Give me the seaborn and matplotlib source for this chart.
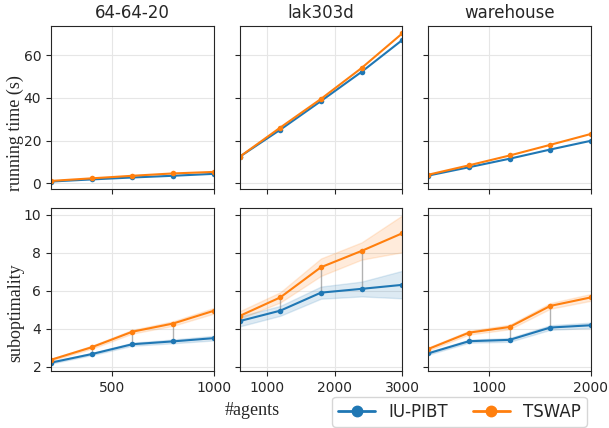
import numpy as np
import pandas as pd
import matplotlib
matplotlib.use("Agg")
import matplotlib.pyplot as plt
from matplotlib.lines import Line2D
from matplotlib.ticker import MultipleLocator
import seaborn as sns

sns.set_style("ticks", {"axes.grid": True, "grid.color": "0.9", "axes.edgecolor": "0.15"})
plt.rcParams['font.family'] = ['DejaVu Sans']

# ---- data ----
maps = ['64-64-20', 'lak303d', 'warehouse']
agents = {
    '64-64-20': [200, 400, 600, 800, 1000],
    'lak303d': [600, 1200, 1800, 2400, 3000],
    'warehouse': [400, 800, 1200, 1600, 2000],
}

# running time (s)
time_iu = {
    '64-64-20': [0.8, 1.8, 2.7, 3.5, 4.4],
    'lak303d': [12.4, 25.1, 38.5, 52.2, 67.1],
    'warehouse': [3.6, 7.5, 11.5, 15.8, 19.9],
}
time_ts = {
    '64-64-20': [1.1, 2.3, 3.5, 4.6, 5.3],
    'lak303d': [12.4, 26.1, 39.5, 54.0, 70.2],
    'warehouse': [4.0, 8.4, 13.0, 18.0, 23.1],
}

# suboptimality (mean, lower, upper)
sub_iu = {
    '64-64-20': [2.21, 2.66, 3.18, 3.33, 3.50],
    'lak303d': [4.40, 4.95, 5.90, 6.10, 6.31],
    'warehouse': [2.70, 3.34, 3.41, 4.06, 4.18],
}
sub_iu_lo = {
    '64-64-20': [2.16, 2.60, 3.10, 3.23, 3.38],
    'lak303d': [4.12, 4.68, 5.58, 5.70, 5.60],
    'warehouse': [2.63, 3.26, 3.31, 3.94, 4.04],
}
sub_iu_hi = {
    '64-64-20': [2.26, 2.72, 3.26, 3.43, 3.62],
    'lak303d': [4.65, 5.20, 6.22, 6.48, 7.05],
    'warehouse': [2.77, 3.42, 3.51, 4.18, 4.32],
}
sub_ts = {
    '64-64-20': [2.36, 3.02, 3.84, 4.27, 4.94],
    'lak303d': [4.67, 5.65, 7.24, 8.10, 9.03],
    'warehouse': [2.93, 3.79, 4.09, 5.20, 5.65],
}
sub_ts_lo = {
    '64-64-20': [2.31, 2.94, 3.74, 4.15, 4.79],
    'lak303d': [4.52, 5.38, 6.78, 7.64, 8.03],
    'warehouse': [2.85, 3.69, 3.97, 5.05, 5.47],
}
sub_ts_hi = {
    '64-64-20': [2.41, 3.10, 3.94, 4.39, 5.09],
    'lak303d': [4.92, 5.92, 7.70, 8.55, 9.97],
    'warehouse': [3.01, 3.89, 4.21, 5.35, 5.83],
}

methods = ['IU-PIBT', 'TSWAP']
colors = {'IU-PIBT': 'tab:blue', 'TSWAP': 'tab:orange'}

fig, axes = plt.subplots(2, 3, figsize=(6.09, 4.28), dpi=100, sharex='col', sharey='row')
fig.subplots_adjust(left=0.0837, right=0.9704, top=0.9393, bottom=0.1332, wspace=0.16, hspace=0.117)

for j, m in enumerate(maps):
    x = agents[m]
    # running time
    rows = []
    for name, vals in [('IU-PIBT', time_iu[m]), ('TSWAP', time_ts[m])]:
        for xi, v in zip(x, vals):
            rows.append({'agents': xi, 'value': v, 'method': name})
    df_t = pd.DataFrame(rows)
    ax = axes[0, j]
    sns.lineplot(data=df_t, x='agents', y='value', hue='method', hue_order=methods,
                 palette=colors, marker='o', markersize=4, markeredgewidth=0,
                 linewidth=1.5, errorbar=None, legend=False, ax=ax)
    ax.set_title(m, fontsize=12)

    # suboptimality: lower / mean / upper per point -> median + min-max band
    rows = []
    for name, lo, mid, hi in [('IU-PIBT', sub_iu_lo[m], sub_iu[m], sub_iu_hi[m]),
                              ('TSWAP', sub_ts_lo[m], sub_ts[m], sub_ts_hi[m])]:
        for xi, a, b, c in zip(x, lo, mid, hi):
            for v in (a, b, c):
                rows.append({'agents': xi, 'value': v, 'method': name})
    df_s = pd.DataFrame(rows)
    ax = axes[1, j]
    ax.vlines(x[1:-1], sub_iu[m][1:-1], sub_ts[m][1:-1], color='gray', alpha=0.6, linewidth=1)
    sns.lineplot(data=df_s, x='agents', y='value', hue='method', hue_order=methods,
                 palette=colors, marker='o', markersize=4, markeredgewidth=0,
                 linewidth=1.5, estimator='median',
                 errorbar=lambda v: (v.min(), v.max()), err_kws={'alpha': 0.15},
                 legend=False, ax=ax)

    for ax in axes[:, j]:
        ax.set_xlim(x[0], x[-1])
        ax.set_xlabel('')
        ax.set_ylabel('')
        ax.tick_params(labelsize=10)
        for s in ax.spines.values():
            s.set_visible(True)
    axes[1, j].xaxis.set_major_locator(MultipleLocator(500 if j == 0 else 1000))

axes[0, 0].yaxis.set_major_locator(MultipleLocator(20))
axes[1, 0].yaxis.set_major_locator(MultipleLocator(2))

axes[0, 0].set_ylabel('running time (s)', family='Liberation Serif', fontsize=13)
axes[1, 0].set_ylabel('suboptimality', family='Liberation Serif', fontsize=13)
axes[0, 0].yaxis.set_label_coords(-0.165, 0.345)
axes[1, 0].yaxis.set_label_coords(-0.165, 0.355)
fig.text(0.414, 0.042, '#agents', family='Liberation Serif', fontsize=13, ha='center', va='center')

handles = [Line2D([], [], color=colors[n], marker='o', markersize=7.5, linewidth=2) for n in methods]
fig.legend(handles, methods, loc='center', bbox_to_anchor=(0.7545, 0.038), ncol=2,
           fontsize=12, frameon=True, handlelength=2.2, columnspacing=1.5, borderpad=0.35)

fig.savefig('out.png', dpi=100)
